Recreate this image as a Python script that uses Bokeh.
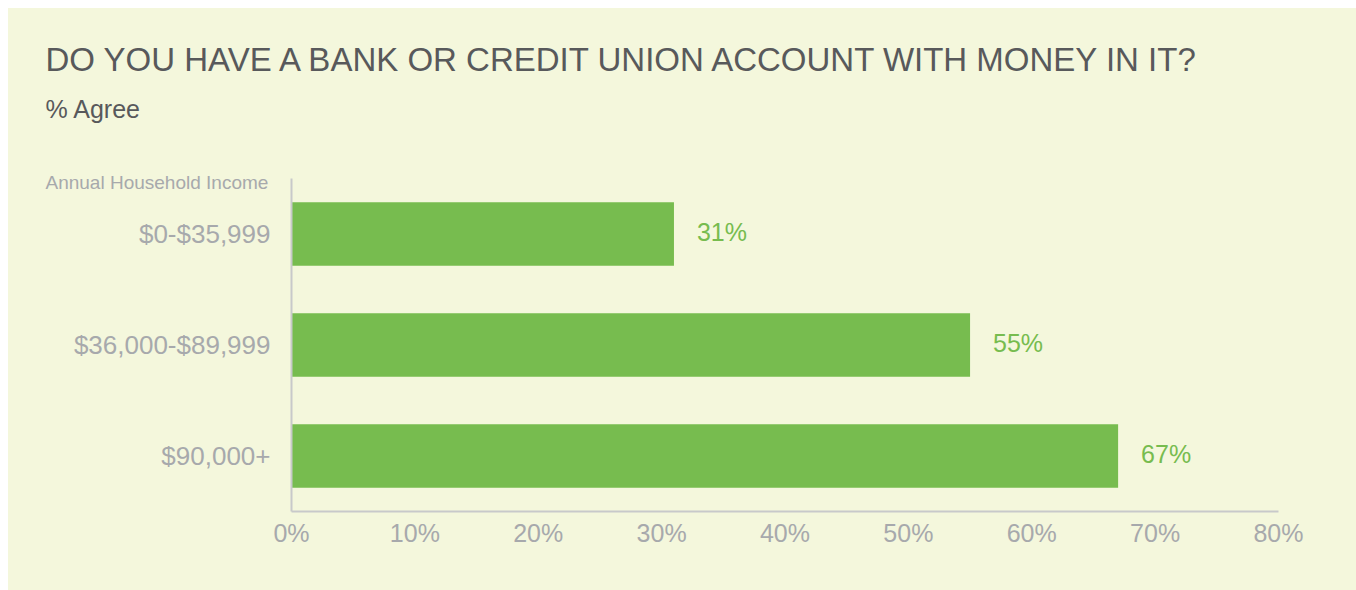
from bokeh.plotting import figure
from bokeh.models import FactorRange, Range1d, Title, Spacer, FixedTicker
from bokeh.layouts import row, column
from bokeh.core.properties import value
from bokeh.embed import file_html
from bokeh.resources import INLINE

# Survey data
categories = ["$0-$35,999", "$36,000-$89,999", "$90,000+"]
agree_pct = [31, 55, 67]
x_ticks = [0, 10, 20, 30, 40, 50, 60, 70, 80]

title_text = "DO YOU HAVE A BANK OR CREDIT UNION ACCOUNT WITH MONEY IN IT?"
subtitle_text = "% Agree"
axis_caption = "Annual Household Income"

BG = "#f4f7dc"
GREEN = "#77bc4f"
DARK = "#58595b"
LIGHT = "#a7a9ac"
LINE = "#c8c9ca"
FONT = "Liberation Sans"

p = figure(
    width=1348, height=582,
    y_range=FactorRange(factors=list(reversed(categories))),
    x_range=Range1d(0, 80),
    output_backend="svg", toolbar_location=None,
    background_fill_color=None, border_fill_color=BG,
    min_border_left=283, min_border_top=170,
    min_border_right=78, min_border_bottom=79,
)
# the plot area is left transparent over a panel of the same colour
p.styles = {"background-color": BG}
p.outline_line_color = None
p.grid.grid_line_color = None

p.hbar(y=categories, right=agree_pct, left=0, height=0.57,
       color=GREEN, line_color=None)

p.text(x=agree_pct, y=categories, text=[f"{v}%" for v in agree_pct],
       x_offset=23, y_offset=-2, text_baseline="middle", text_align="left",
       text_color=GREEN, text_font_size="25px", text_font=value(FONT))

# x axis
xa = p.xaxis[0]
xa.ticker = FixedTicker(ticks=x_ticks)
xa.major_label_overrides = {t: f"{t}%" for t in x_ticks}
xa.major_tick_line_color = None
xa.minor_tick_line_color = None
xa.axis_line_color = LINE
xa.axis_line_width = 2
xa.major_label_text_color = LIGHT
xa.major_label_text_font_size = "25px"
xa.major_label_text_font = FONT
xa.major_label_standoff = 1

# y axis
ya = p.yaxis[0]
ya.major_tick_line_color = None
ya.minor_tick_line_color = None
ya.axis_line_color = LINE
ya.axis_line_width = 2
ya.major_label_text_color = LIGHT
ya.major_label_text_font_size = "26px"
ya.major_label_text_font = FONT
ya.major_label_standoff = 15

# Headings stacked in the top panel (first added sits nearest the bars)
LEFT_SHIFT = -246
p.add_layout(Title(text=axis_caption, align="left", offset=LEFT_SHIFT,
                   vertical_align="bottom", standoff=-28,
                   text_color=LIGHT, text_font_size="19px",
                   text_font=FONT, text_font_style="normal"), "above")
p.add_layout(Title(text=" ", align="left", standoff=43,
                   text_font_size="10px", text_color=BG), "above")
p.add_layout(Title(text=subtitle_text, align="left", offset=LEFT_SHIFT,
                   vertical_align="bottom", standoff=0,
                   text_color=DARK, text_font_size="25px",
                   text_font=FONT, text_font_style="normal"), "above")
p.add_layout(Title(text=title_text, align="left", offset=LEFT_SHIFT,
                   vertical_align="bottom", standoff=29,
                   text_color=DARK, text_font_size="33px",
                   text_font=FONT, text_font_style="normal"), "above")

layout = row(Spacer(width=8, height=590),
             column(Spacer(width=1348, height=8), p))

open("out.html", "w").write(file_html(layout, INLINE))
